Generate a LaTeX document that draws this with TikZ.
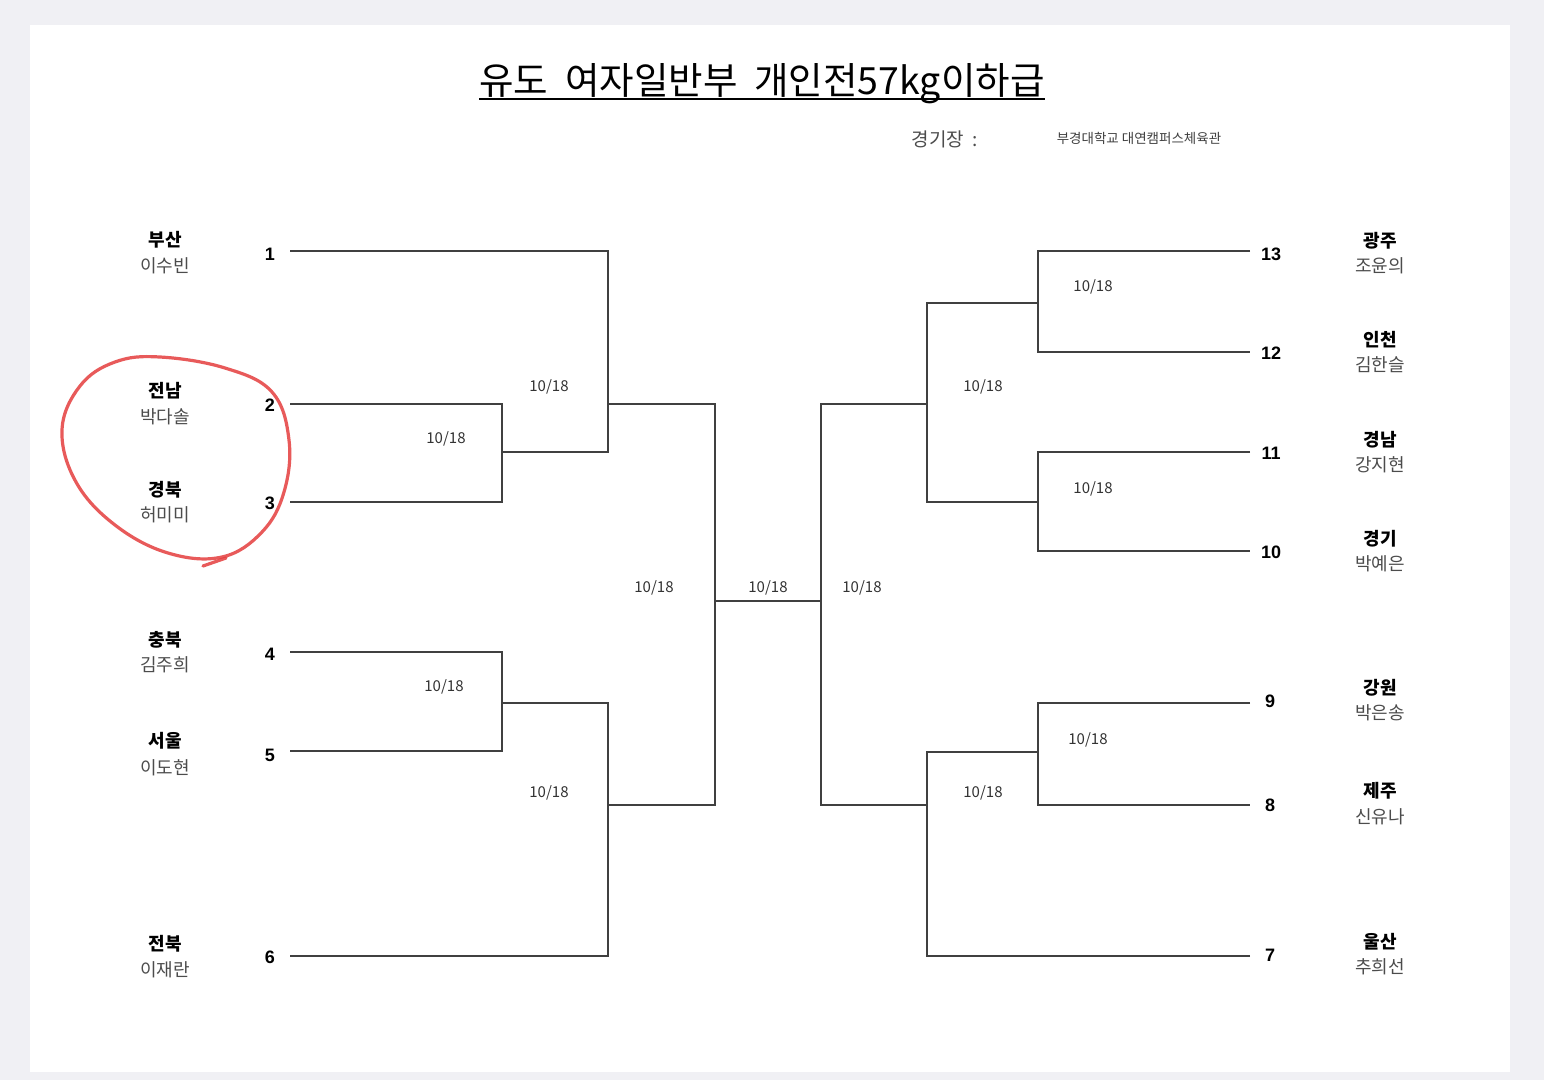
\documentclass[tikz,border=0pt]{standalone}
\usepackage{fontspec}
\setmainfont{Noto Sans CJK KR}
\newfontfamily\numfont{Liberation Sans}
\usetikzlibrary{positioning,calc}
\definecolor{pagebg}{RGB}{240,240,244}
\definecolor{inkred}{RGB}{228,62,62}
\tikzset{
title/.style={font=\fontsize{37.5}{39}\selectfont,inner xsep=0pt,anchor=base},
team/.style={font=\fontsize{18}{19}\selectfont\bfseries,text=black},
player/.style={font=\fontsize{18}{19}\selectfont,text=black!70},
seed/.style={font=\numfont\fontsize{18}{19}\selectfont\bfseries},
date/.style={font=\fontsize{15}{16}\selectfont,text=black!80},
bracket/.style={line width=1.2pt,black!75},
ring/.style={inkred,line width=3.2pt,opacity=.85,line cap=round}
}
\begin{document}
\begin{tikzpicture}[x=1pt,y=-1pt]
\fill[pagebg](0,0)rectangle(1544,1080);\fill[white](30,25)rectangle(1510,1072);
\useasboundingbox(0,0)rectangle(1544,1080);
% heading
\node[title](head)at(762,94){유도\ \ 여자일반부\ \ 개인전57kg이하급};
\draw[line width=2pt]($(head.base west)+(0,5)$)--($(head.base east)+(0,5)$);
\node[font=\fontsize{19}{20}\selectfont,text=black!70](venue)at(945,139){경기장\ \ :};
\node[font=\fontsize{13.5}{14}\selectfont,text=black!75](hall)at(1139,138){부경대학교\ 대연캠퍼스체육관};
% left side entries
\node[team](t1)at(165,240){부산};\node[player](p1)at(165,266){이수빈};
\node[team](t2)at(165,391){전남};\node[player](p2)at(165,417){박다솔};
\node[team](t3)at(165,490){경북};\node[player](p3)at(165,515){허미미};
\node[team](t4)at(165,640){충북};\node[player](p4)at(165,665){김주희};
\node[team](t5)at(165,741){서울};\node[player](p5)at(165,768){이도현};
\node[team](t6)at(165,944){전북};\node[player](p6)at(165,970){이재란};
\node[seed](n1)at(270,254){1};\node[seed](n2)at(270,405){2};\node[seed](n3)at(270,503){3};
\node[seed](n4)at(270,654){4};\node[seed](n5)at(270,755){5};\node[seed](n6)at(270,957){6};
% right side entries
\node[team](t13)at(1380,241){광주};\node[player](p13)at(1380,266){조윤의};
\node[team](t12)at(1380,340){인천};\node[player](p12)at(1380,365){김한슬};
\node[team](t11)at(1380,440){경남};\node[player](p11)at(1380,465){강지현};
\node[team](t10)at(1380,539){경기};\node[player](p10)at(1380,564){박예은};
\node[team](t9)at(1380,688){강원};\node[player](p9)at(1380,713){박은송};
\node[team](t8)at(1380,791){제주};\node[player](p8)at(1380,817){신유나};
\node[team](t7)at(1380,942){울산};\node[player](p7)at(1380,967){추희선};
\node[seed](n13)at(1271,254){13};\node[seed](n12)at(1271,353){12};\node[seed](n11)at(1271,453){11};
\node[seed](n10)at(1271,552){10};\node[seed](n9)at(1270,701){9};\node[seed](n8)at(1270,805){8};
\node[seed](n7)at(1270,955){7};
% bracket points
\coordinate(s1)at(290,251);\coordinate(s2)at(290,404);\coordinate(s3)at(290,502);
\coordinate(s4)at(290,652);\coordinate(s5)at(290,751);\coordinate(s6)at(290,956);
\coordinate(r13)at(1250,251);\coordinate(r12)at(1250,352);\coordinate(r11)at(1250,452);
\coordinate(r10)at(1250,551);\coordinate(r9)at(1250,703);\coordinate(r8)at(1250,805);
\coordinate(r7)at(1250,956);
\coordinate(j23)at(502,452);\coordinate(j45)at(502,703);
\coordinate(j123)at(608,404);\coordinate(j456)at(608,805);
\coordinate(jL)at(715,601);\coordinate(jR)at(821,601);
\coordinate(jRU)at(927,404);\coordinate(jRL)at(927,805);
\coordinate(j1312)at(1038,303);\coordinate(j1110)at(1038,502);\coordinate(j98)at(1038,752);
% bracket lines
\draw[bracket](s2)-|(j23)|-(s3);\draw[bracket](s1)-|(j123)|-(j23);
\draw[bracket](s4)-|(j45)|-(s5);\draw[bracket](s6)-|(j456)|-(j45);
\draw[bracket](j123)-|(jL)|-(j456);\draw[bracket](jL)--(jR);
\draw[bracket](r13)-|(j1312)|-(r12);\draw[bracket](r11)-|(j1110)|-(r10);
\draw[bracket](j1312)-|(jRU)|-(j1110);\draw[bracket](r9)-|(j98)|-(r8);
\draw[bracket](r7)-|(jRL)|-(j98);\draw[bracket](jRU)-|(jR)|-(jRL);
% match dates
\node[date](d1)at(549,387){10/18};\node[date](d2)at(446,439){10/18};
\node[date](d3)at(444,687){10/18};\node[date](d4)at(549,793){10/18};
\node[date](d5)at(654,588){10/18};\node[date](d6)at(768,588){10/18};
\node[date](d7)at(862,588){10/18};\node[date](d8)at(983,387){10/18};
\node[date](d9)at(1093,287){10/18};\node[date](d10)at(1093,489){10/18};
\node[date](d11)at(1088,740){10/18};\node[date](d12)at(983,793){10/18};
% hand drawn mark
\draw[ring]plot[smooth cycle,tension=.65]coordinates{(160,357)(225,368)(272,392)(289,440)(284,492)(262,532)(222,557)(168,553)(115,525)(76,482)(62,430)(80,386)(115,362)};
\draw[ring](203,566)--(226,558);
\end{tikzpicture}
\end{document}
